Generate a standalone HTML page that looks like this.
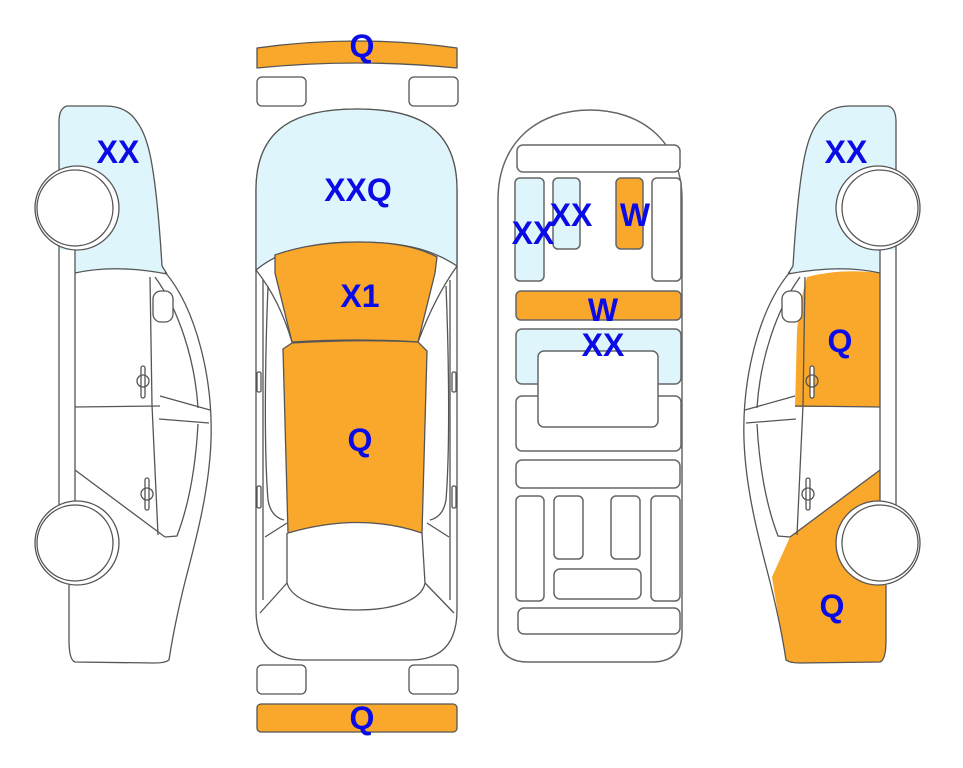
<!DOCTYPE html>
<html><head><meta charset="utf-8"><style>
html,body{margin:0;padding:0;background:#fff;}
svg{display:block;}
text{font-family:"Liberation Sans",Arial,sans-serif;font-weight:bold;font-size:32px;fill:#0b0be6;text-anchor:middle;}
</style></head><body>
<svg width="963" height="768" viewBox="0 0 963 768" xmlns="http://www.w3.org/2000/svg">
<defs>
<g id="carlines" fill="none" stroke="#555" stroke-width="1.3">
  <path d="M793,266 Q797,200 803,165 Q808,135 818,122 Q828,106 850,106 L888,106 Q896,108 896,122 L896,172"/>
  <path d="M880,250 L880,505 M896,245 L896,505"/>
  <path d="M788,274 Q840,264 880,273"/>
  <path d="M793,266 L788,274"/>
  <path d="M790,272 C758,310 742,380 744,440 C746,500 765,560 772,590 C778,615 783,640 786,660 Q790,663 800,663 L880,662 Q886,660 886,640 L886,585"/>
  <path d="M800,277 C776,310 760,360 757,408"/>
  <path d="M745,410 L795,396 M746,423 L796,419"/>
  <path d="M757,424 C760,480 770,515 778,536 L790,537"/>
  <path d="M805,277 L803,405 L797,535"/>
  <path d="M795,406 L880,407"/>
  <path d="M880,470 L790,537"/>
  <rect x="782" y="291" width="20" height="31" rx="8" fill="#fff"/>
  <rect x="810" y="366" width="4" height="32" rx="2" fill="#fff"/>
  <circle cx="812" cy="381" r="6"/>
  <rect x="806" y="478" width="4" height="32" rx="2" fill="#fff"/>
  <circle cx="808" cy="494" r="6"/>
  <circle cx="878" cy="208" r="42" fill="#fff"/>
  <circle cx="880" cy="208" r="38" fill="#fff"/>
  <circle cx="878" cy="543" r="42" fill="#fff"/>
  <circle cx="880" cy="543" r="38" fill="#fff"/>
</g>
<path id="blueR" d="M818,122 Q828,106 850,106 L888,106 Q896,108 896,122 L896,250 L880,250 L880,273 Q840,266 790,274 L793,266 Q797,200 803,165 Q808,135 818,122 Z"/>
</defs>

<g transform="translate(955,0) scale(-1,1)">
  <use href="#blueR" fill="#dff5fc"/>
  <use href="#carlines"/>
</g>
<text x="118" y="163">XX</text>

<use href="#blueR" fill="#dff5fc"/>
<path d="M807,277 Q840,268 880,273 L880,407 L795,407 L797,330 Q800,300 807,277 Z" fill="#f9a82b"/>
<path d="M880,470 L790,537 L772,577 C777,610 783,640 786,660 Q790,663 800,663 L880,662 Q886,660 886,640 L886,585 L880,505 Z" fill="#f9a82b"/>
<use href="#carlines"/>
<text x="846" y="163">XX</text>
<text x="840" y="352">Q</text>
<text x="832" y="617">Q</text>

<g stroke="#555" stroke-width="1.3">
  <path d="M257,48 Q357,34 457,48 L457,68 Q357,58 257,68 Z" fill="#f9a82b" stroke-linejoin="round"/>
  <rect x="257" y="77" width="49" height="29" rx="5" fill="#fff"/>
  <rect x="409" y="77" width="49" height="29" rx="5" fill="#fff"/>
  <rect x="257" y="665" width="49" height="29" rx="5" fill="#fff"/>
  <rect x="409" y="665" width="49" height="29" rx="5" fill="#fff"/>
  <rect x="257" y="704" width="200" height="28" rx="4" fill="#f9a82b"/>
  <path d="M256,190 C256,125 300,109 357,109 C414,109 457,125 457,190 L457,610 Q457,660 410,660 L304,660 Q256,660 256,610 Z" fill="#fff"/>
  <path d="M256,190 C256,125 300,109 357,109 C414,109 457,125 457,190 L457,266 C430,248 400,242 357,242 C314,242 280,250 256,270 Z" fill="#dff5fc"/>
  <path d="M275,255 C300,246 330,242 360,242 C395,242 420,248 437,257 L435,273 L418,342 Q357,338 292,342 L275,273 Z" fill="#f9a82b"/>
  <path d="M283,349 L292,343 Q357,339 418,342 L427,351 L422,533 Q360,512 288,533 Z" fill="#f9a82b"/>
  <g fill="none">
    <path d="M256,270 C272,290 284,315 292,342"/>
    <path d="M457,266 C440,290 428,315 418,342"/>
    <path d="M263,280 L263,600 M450,280 L450,600"/>
    <path d="M268,286 C265,360 264,450 268,500 C270,512 276,518 284,520"/>
    <path d="M446,286 C449,360 450,450 446,500 C444,512 438,518 430,520"/>
    <path d="M265,537 L287,523 M449,537 L427,523"/>
    <path d="M287,533 L287,583 C292,600 320,610 357,610 C394,610 422,600 425,583 L422,533"/>
    <path d="M287,583 L260,613 M425,583 L454,613"/>
  </g>
  <rect x="257" y="372" width="4" height="20" rx="1.5" fill="#fff"/>
  <rect x="257" y="486" width="4" height="22" rx="1.5" fill="#fff"/>
  <rect x="452" y="372" width="4" height="20" rx="1.5" fill="#fff"/>
  <rect x="452" y="486" width="4" height="22" rx="1.5" fill="#fff"/>
</g>
<text x="362" y="57">Q</text>
<text x="358" y="201">XXQ</text>
<text x="360" y="307">X1</text>
<text x="360" y="451">Q</text>
<text x="362" y="729">Q</text>

<g stroke="#666" stroke-width="1.5">
  <path d="M498,200 C498,140 540,110 590,110 C640,110 682,140 682,200 L682,632 Q682,662 652,662 L528,662 Q498,662 498,632 Z" fill="#fff"/>
  <rect x="517" y="145" width="163" height="27" rx="6" fill="#fff"/>
  <rect x="515" y="178" width="29" height="103" rx="5" fill="#dff5fc"/>
  <rect x="553" y="178" width="27" height="71" rx="5" fill="#dff5fc"/>
  <rect x="616" y="178" width="27" height="71" rx="5" fill="#f9a82b"/>
  <rect x="652" y="178" width="29" height="103" rx="5" fill="#fff"/>
  <rect x="516" y="291" width="165" height="29" rx="5" fill="#f9a82b"/>
  <rect x="516" y="329" width="165" height="55" rx="6" fill="#dff5fc"/>
  <rect x="516" y="396" width="165" height="55" rx="6" fill="#fff"/>
  <rect x="538" y="351" width="120" height="76" rx="6" fill="#fff"/>
  <rect x="516" y="460" width="164" height="28" rx="6" fill="#fff"/>
  <rect x="516" y="496" width="28" height="105" rx="5" fill="#fff"/>
  <rect x="554" y="496" width="29" height="63" rx="5" fill="#fff"/>
  <rect x="611" y="496" width="29" height="63" rx="5" fill="#fff"/>
  <rect x="651" y="496" width="29" height="105" rx="5" fill="#fff"/>
  <rect x="554" y="569" width="87" height="30" rx="6" fill="#fff"/>
  <rect x="518" y="608" width="162" height="26" rx="6" fill="#fff"/>
</g>
<text x="533" y="244">XX</text>
<text x="571" y="226">XX</text>
<text x="635" y="226">W</text>
<text x="603" y="321">W</text>
<text x="603" y="356">XX</text>
</svg>
</body></html>
